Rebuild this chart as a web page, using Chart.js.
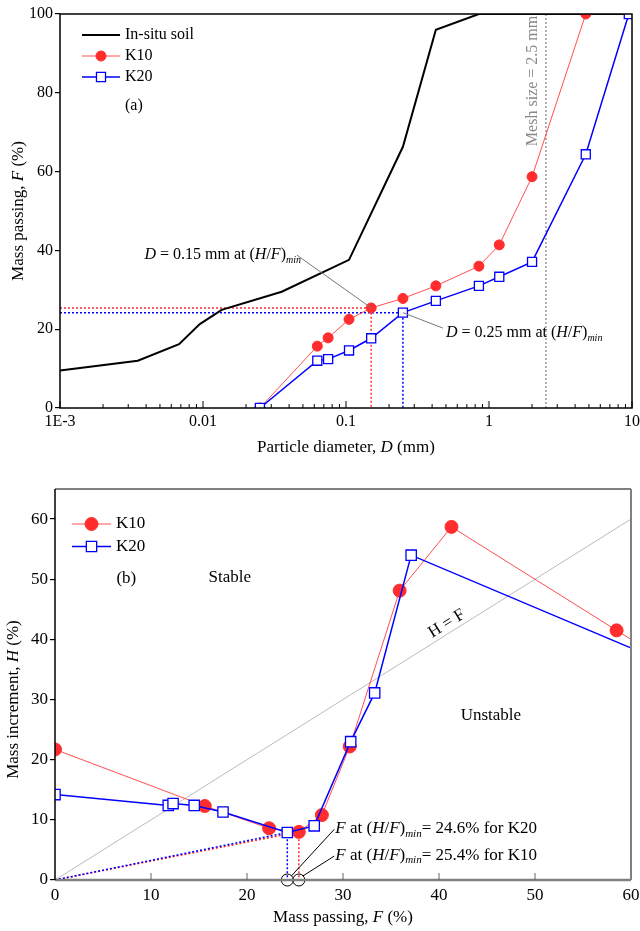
<!DOCTYPE html>
<html>
<head>
<meta charset="utf-8">
<script src="https://cdn.jsdelivr.net/npm/chart.js@4.4.1/dist/chart.umd.min.js"></script>
<style>
html,body{margin:0;padding:0;background:#fff;}
#wrap{position:relative;width:640px;height:931px;}
#c1{position:absolute;left:0;top:0;}
#c2{position:absolute;left:0;top:465px;}
</style>
</head>
<body>
<div id="wrap">
<canvas id="c1" width="640" height="465"></canvas>
<canvas id="c2" width="640" height="466"></canvas>
</div>
<script>
const FAMILY='"Liberation Serif", "Times New Roman", serif';

// (a) grading curves: particle diameter D (mm) vs mass passing F (%)
const soilD=[0.001,0.0035,0.0068,0.0095,0.0135,0.0355,0.105,0.25,0.425,0.85,9.5];
const soilF=[9.5,12.0,16.2,21.3,24.9,29.5,37.6,66.3,96.0,100,100];
const sieveD=[0.025,0.063,0.075,0.105,0.15,0.25,0.425,0.85,1.18,2.0,4.75,9.5];
const k10F=[0,15.7,17.8,22.5,25.4,27.8,31.0,36.0,41.4,58.7,100];
const k20F=[0,12.0,12.4,14.6,17.7,24.2,27.2,31.0,33.3,37.1,64.4,100];
const meshD=2.5;
const dMinK10=0.15, dMinK20=0.25;
const xTickLabelsA=['1E-3','0.01','0.1','1','10'];

// (b) mass passing F (%) vs mass increment H (%)
const k10PassF=[0,15.6,22.3,25.4,27.8,30.7,35.9,41.3,58.5,100];
const k10H=[21.7,12.3,8.6,8.0,10.8,22.2,48.1,58.7,41.5,0];
const k20PassF=[0,11.8,12.3,14.5,17.5,24.2,27.0,30.8,33.3,37.1,64.4];
const k20H=[14.2,12.4,12.7,12.4,11.3,7.9,9.0,23.0,31.1,54.0,35.6];
const hfLine=[0,60];

const pts=(xs,ys)=>ys.map((y,i)=>({x:xs[i],y}));

function segFont(s,size){
    if(s==='s') return `italic ${Math.round(size*0.65)}px ${FAMILY}`;
    if(s==='i') return `italic ${size}px ${FAMILY}`;
    return `${size}px ${FAMILY}`;
}
function rich(ctx,segs,x,y,size,opt={}){
    ctx.save();
    ctx.translate(x,y);
    if(opt.rot) ctx.rotate(opt.rot);
    ctx.fillStyle=opt.color||'#000';
    ctx.textBaseline='middle';
    ctx.textAlign='left';
    let w=0;
    segs.forEach(([t,s])=>{ctx.font=segFont(s,size);w+=ctx.measureText(t).width;});
    let cx=opt.align==='center'?-w/2:opt.align==='right'?-w:0;
    segs.forEach(([t,s])=>{ctx.font=segFont(s,size);ctx.fillText(t,cx,s==='s'?size*0.32:0);cx+=ctx.measureText(t).width;});
    ctx.restore();
    return w;
}
function line(ctx,x1,y1,x2,y2,color,w){
    ctx.save();ctx.strokeStyle=color;ctx.lineWidth=w||1;
    ctx.beginPath();ctx.moveTo(x1,y1);ctx.lineTo(x2,y2);ctx.stroke();ctx.restore();
}
function legend(ctx,items,x0,x1,tx,ys,size){
    items.forEach((ds,i)=>{
        const y=ys[i];
        line(ctx,x0,y,x1,y,ds.borderColor,ds.legendWidth||ds.borderWidth);
        if(ds.pointRadius>0){
            ctx.save();
            ctx.fillStyle=ds.pointBackgroundColor;ctx.strokeStyle=ds.pointBorderColor;ctx.lineWidth=ds.pointBorderWidth;
            Chart.helpers.drawPoint(ctx,{pointStyle:ds.pointStyle,radius:ds.pointRadius,borderWidth:ds.pointBorderWidth,rotation:0},(x0+x1)/2,y);
            ctx.restore();
        }
        rich(ctx,[[ds.label,'']],tx,y,size);
    });
}

// tick positions of the log axis
const tickValsA=[];
for(let e=-3;e<=1;e++){
    for(let m=1;m<=9;m++){
        const v=m*Math.pow(10,e);
        if(v<=10.0001) tickValsA.push(v);
        if(e===1) break;
    }
}
const isDecade=v=>Math.abs(Math.log10(v)-Math.round(Math.log10(v)))<1e-6;

const RED='rgb(255,45,45)', REDLINE='rgba(255,60,60,0.9)', BLUE='#0000ff';

const redGuideA=[{x:0.001,y:k10F[sieveD.indexOf(dMinK10)]},{x:dMinK10,y:k10F[sieveD.indexOf(dMinK10)]},{x:dMinK10,y:0}];
const blueGuideA=[{x:0.001,y:k20F[sieveD.indexOf(dMinK20)]},{x:dMinK20,y:k20F[sieveD.indexOf(dMinK20)]},{x:dMinK20,y:0}];

const decorA={id:'decorA',afterDatasetsDraw(chart){
    const {ctx,chartArea:a,scales:{x,y}}=chart;
    ctx.save();
    ctx.strokeStyle='#000';ctx.lineWidth=1.5;
    ctx.strokeRect(a.left,a.top,a.right-a.left,a.bottom-a.top);
    ctx.restore();
    tickValsA.forEach(v=>{
        const p=x.getPixelForValue(v);
        line(ctx,p,a.bottom,p,a.bottom-(isDecade(v)?7:4),'#000',1);
    });
    const ds=chart.data.datasets;
    legend(ctx,[ds[0],ds[1],ds[2]],a.left+22,a.left+60,a.left+65,[a.top+21,a.top+42,a.top+63],16);
    rich(ctx,[['(a)','']],x.getPixelForValue(0.00285),y.getPixelForValue(76.6),16);

    // annotation D = 0.15
    const iK10=sieveD.indexOf(dMinK10), iK20=sieveD.indexOf(dMinK20);
    const t1x=x.getPixelForValue(0.0039), t1y=y.getPixelForValue(38.8);
    const w1=rich(ctx,[['D','i'],[' = 0.15 mm at (',''],['H','i'],['/',''],['F','i'],[')',''],['min','s']],t1x,t1y,16);
    line(ctx,t1x+w1-4,t1y,x.getPixelForValue(dMinK10),y.getPixelForValue(k10F[iK10]),'#777',1);
    // annotation D = 0.25
    const t2x=x.getPixelForValue(0.5), t2y=y.getPixelForValue(19.0);
    rich(ctx,[['D','i'],[' = 0.25 mm at (',''],['H','i'],['/',''],['F','i'],[')',''],['min','s']],t2x,t2y,16);
    line(ctx,x.getPixelForValue(dMinK20),y.getPixelForValue(k20F[iK20]),t2x-3,t2y-5,'#777',1);
    // mesh label
    rich(ctx,[['Mesh size = 2.5 mm','']],x.getPixelForValue(2.03),y.getPixelForValue(83),16,{rot:-Math.PI/2,align:'center',color:'#888'});
    // axis titles
    rich(ctx,[['Mass passing, ',''],['F','i'],[' (%)','']],19,(a.top+a.bottom)/2,17,{rot:-Math.PI/2,align:'center'});
    rich(ctx,[['Particle diameter, ',''],['D','i'],[' (mm)','']],(a.left+a.right)/2,448,17,{align:'center'});
}};

new Chart(document.getElementById('c1'),{
    type:'scatter',
    data:{datasets:[
        {label:'In-situ soil',data:pts(soilD,soilF),showLine:true,borderColor:'#000',borderWidth:2,pointRadius:0,order:3},
        {label:'K10',data:pts(sieveD,k10F),showLine:true,borderColor:REDLINE,borderWidth:1,legendWidth:1.2,
         pointStyle:'circle',pointRadius:5,pointBackgroundColor:RED,pointBorderColor:RED,pointBorderWidth:1,order:2},
        {label:'K20',data:pts(sieveD,k20F),showLine:true,borderColor:BLUE,borderWidth:1.5,
         pointStyle:'rect',pointRadius:6.4,pointBackgroundColor:'#fff',pointBorderColor:BLUE,pointBorderWidth:1.3,order:1},
        {label:'g1',data:redGuideA,showLine:true,borderColor:RED,borderWidth:1.5,borderDash:[2,2],pointRadius:0,order:5},
        {label:'g2',data:blueGuideA,showLine:true,borderColor:BLUE,borderWidth:1.5,borderDash:[2,2],pointRadius:0,order:4},
        {label:'mesh',data:[{x:meshD,y:0},{x:meshD,y:100}],showLine:true,borderColor:'#999',borderWidth:1.5,borderDash:[2,2],pointRadius:0,order:6}
    ]},
    options:{
        responsive:false,animation:false,
        layout:{padding:{top:14,right:8,left:0,bottom:0}},
        plugins:{legend:{display:false},tooltip:{enabled:false}},
        scales:{
            x:{type:'logarithmic',min:0.001,max:10,
               grid:{display:false,drawTicks:false},border:{display:false},
               afterBuildTicks:s=>{s.ticks=tickValsA.map(v=>({value:v}));},
               afterFit:s=>{s.height=57;s.paddingLeft=0;s.paddingRight=0;},
               ticks:{autoSkip:false,maxRotation:0,minRotation:0,padding:4,color:'#000',font:{family:FAMILY,size:16},
                      callback:v=>isDecade(v)?xTickLabelsA[Math.round(Math.log10(v))+3]:''}},
            y:{min:0,max:100,
               grid:{drawOnChartArea:false,drawTicks:true,tickLength:5,color:'#000',lineWidth:1.2},border:{display:false},
               afterFit:s=>{s.width=60;s.paddingTop=0;s.paddingBottom=0;},
               ticks:{stepSize:20,padding:2,color:'#000',font:{family:FAMILY,size:16}}}
        }
    },
    plugins:[decorA]
});

// (b)
const iMin10=k10PassF.indexOf(25.4), iMin20=k20PassF.indexOf(24.2);
const redGuideB=[{x:0,y:0},{x:k10PassF[iMin10],y:k10H[iMin10]},{x:k10PassF[iMin10],y:0}];
const blueGuideB=[{x:0,y:0},{x:k20PassF[iMin20],y:k20H[iMin20]},{x:k20PassF[iMin20],y:0}];
const minMarks=[{x:k20PassF[iMin20],y:0},{x:k10PassF[iMin10],y:0}];

const decorB={id:'decorB',afterDatasetsDraw(chart){
    const {ctx,chartArea:a,scales:{x,y}}=chart;
    line(ctx,a.left,a.top,a.right,a.top,'#808080',2);
    line(ctx,a.right,a.top,a.right,a.bottom,'#808080',2);
    line(ctx,a.left,a.bottom,a.right,a.bottom,'#808080',2.5);
    line(ctx,a.left,a.top,a.left,a.bottom,'#000',1.5);
    x.ticks.forEach(t=>{
        if(t.value<=0||t.value>=60) return;
        const p=x.getPixelForValue(t.value);
        line(ctx,p,a.bottom,p,a.bottom-7,'#666',1);
    });
    const ds=chart.data.datasets;
    legend(ctx,[ds[0],ds[1]],a.left+17,a.left+56,a.left+61,[a.top+35,a.top+57.5],17);
    rich(ctx,[['(b)','']],x.getPixelForValue(6.4),y.getPixelForValue(50.1),17);
    rich(ctx,[['Stable','']],x.getPixelForValue(18.2),y.getPixelForValue(50.2),17,{align:'center'});
    rich(ctx,[['Unstable','']],x.getPixelForValue(45.4),y.getPixelForValue(27.3),17,{align:'center'});
    const ang=Math.atan2(y.getPixelForValue(hfLine[1])-y.getPixelForValue(hfLine[0]),x.getPixelForValue(hfLine[1])-x.getPixelForValue(hfLine[0]));
    rich(ctx,[['H = F','']],x.getPixelForValue(40.8),y.getPixelForValue(42.6),17,{align:'center',rot:ang});

    const tx=x.getPixelForValue(29.2);
    const ty1=y.getPixelForValue(8.6), ty2=y.getPixelForValue(4.15);
    rich(ctx,[['F','i'],[' at (',''],['H','i'],['/',''],['F','i'],[')',''],['min','s'],['= 24.6% for K20','']],tx,ty1,17);
    rich(ctx,[['F','i'],[' at (',''],['H','i'],['/',''],['F','i'],[')',''],['min','s'],['= 25.4% for K10','']],tx,ty2,17);
    const c20=x.getPixelForValue(minMarks[0].x), c10=x.getPixelForValue(minMarks[1].x), cy=y.getPixelForValue(0);
    line(ctx,c20+4,cy-4,tx-1,ty1+1,'#000',1);
    line(ctx,c10+4,cy-4,tx-1,ty2+1,'#000',1);

    rich(ctx,[['Mass increment, ',''],['H','i'],[' (%)','']],14,y.getPixelForValue(30),17,{rot:-Math.PI/2,align:'center'});
    rich(ctx,[['Mass passing, ',''],['F','i'],[' (%)','']],(a.left+a.right)/2,453,17,{align:'center'});
}};

new Chart(document.getElementById('c2'),{
    type:'scatter',
    data:{datasets:[
        {label:'K10',data:pts(k10PassF,k10H),showLine:true,borderColor:REDLINE,borderWidth:1,legendWidth:1.2,
         pointStyle:'circle',pointRadius:6.5,pointBackgroundColor:RED,pointBorderColor:RED,pointBorderWidth:1,order:2},
        {label:'K20',data:pts(k20PassF,k20H),showLine:true,borderColor:BLUE,borderWidth:1.5,
         pointStyle:'rect',pointRadius:7.3,pointBackgroundColor:'#fff',pointBorderColor:BLUE,pointBorderWidth:1.3,order:1},
        {label:'H=F',data:[{x:hfLine[0],y:hfLine[0]},{x:hfLine[1],y:hfLine[1]}],showLine:true,borderColor:'#bbb',borderWidth:1,pointRadius:0,order:6},
        {label:'g1',data:redGuideB,showLine:true,borderColor:RED,borderWidth:1.5,borderDash:[2,2],pointRadius:0,order:4},
        {label:'g2',data:blueGuideB,showLine:true,borderColor:BLUE,borderWidth:1.5,borderDash:[2,2],pointRadius:0,order:3},
        {label:'min',data:minMarks,showLine:false,pointStyle:'circle',pointRadius:6,pointBackgroundColor:'rgba(0,0,0,0)',
         pointBorderColor:'#000',pointBorderWidth:1,clip:false,order:0}
    ]},
    options:{
        responsive:false,animation:false,
        layout:{padding:{top:24,right:9,left:0,bottom:0}},
        plugins:{legend:{display:false},tooltip:{enabled:false}},
        scales:{
            x:{type:'linear',min:0,max:60,
               grid:{display:false,drawTicks:false},border:{display:false},
               afterFit:s=>{s.height=51;s.paddingLeft=0;s.paddingRight=0;},
               ticks:{stepSize:10,padding:5,maxRotation:0,color:'#000',font:{family:FAMILY,size:17}}},
            y:{min:0,max:65,
               grid:{drawOnChartArea:false,drawTicks:true,tickLength:5,color:'#000',lineWidth:1.2},border:{display:false},
               afterFit:s=>{s.width=55;s.paddingTop=0;s.paddingBottom=0;},
               ticks:{stepSize:10,includeBounds:false,padding:2,color:'#000',font:{family:FAMILY,size:17}}}
        }
    },
    plugins:[decorB]
});
</script>
</body>
</html>
